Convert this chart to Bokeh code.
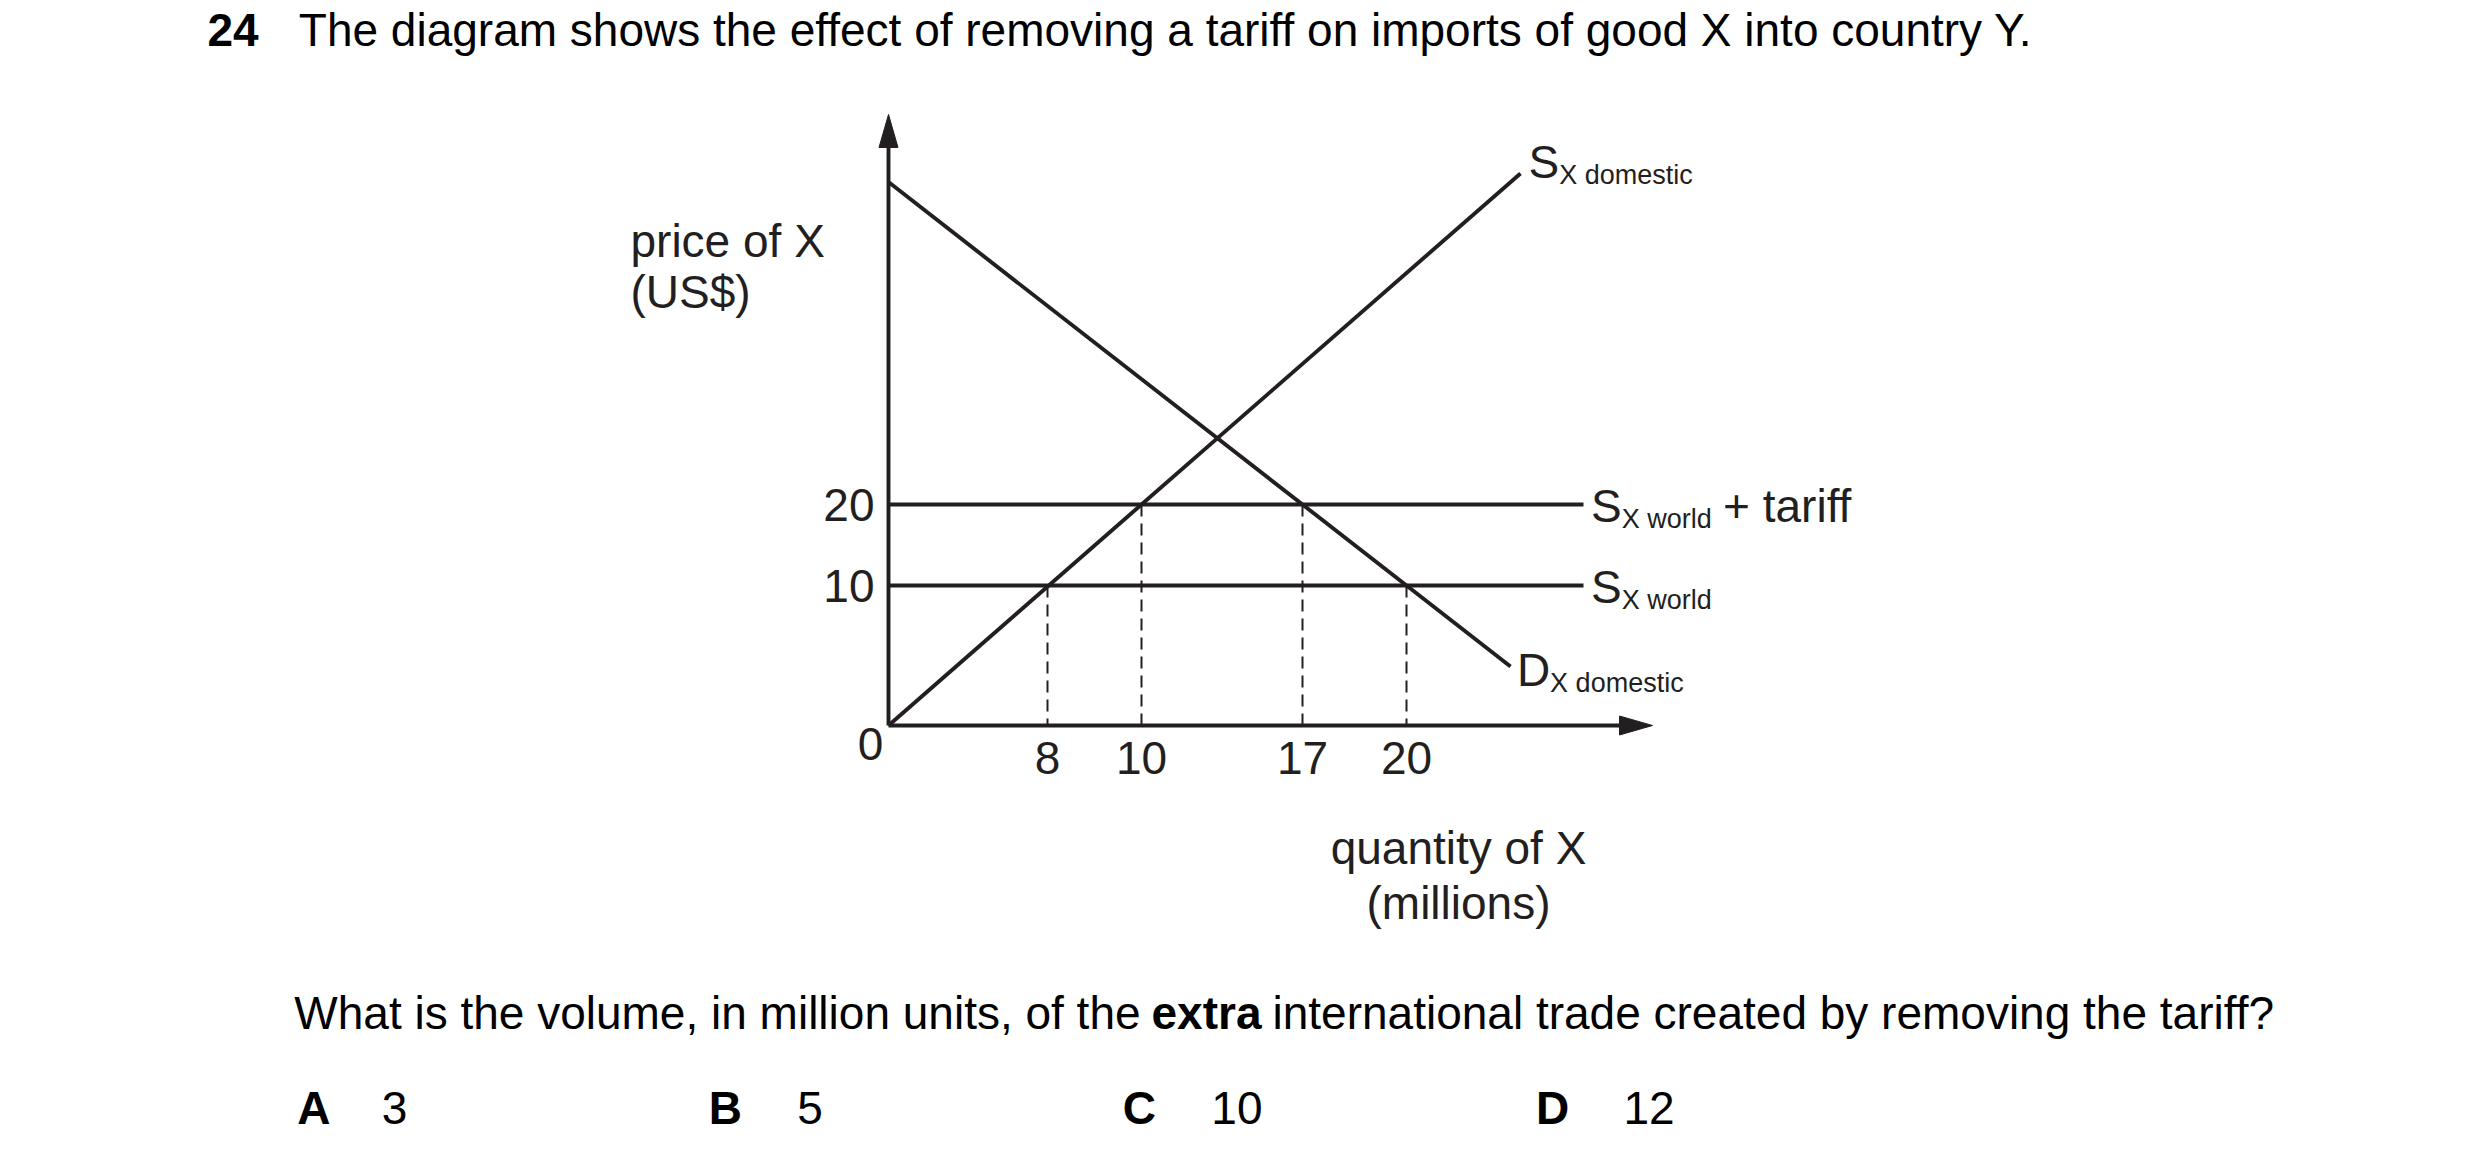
from bokeh.plotting import figure
from bokeh.models import Range1d
from bokeh.core.properties import value
from bokeh.embed import file_html
from bokeh.resources import INLINE

# ------------------------------------------------------------------ data
price_levels = [10, 20]                 # world price, world price + tariff
price_tick_labels = ["10", "20"]
qty_levels = [8, 10, 17, 20]
qty_tick_labels = ["8", "10", "17", "20"]
qty_read_at_price = [10, 20, 20, 10]    # price level each quantity is read at
supply_pts = [(8, 10), (10, 20)]        # domestic supply passes these (q, p)
demand_pts = [(17, 20), (20, 10)]       # domestic demand passes these (q, p)

title_number = "24"
title_text = "The diagram shows the effect of removing a tariff on imports of good X into country Y."
question_parts = ["What is the volume, in million units, of the", "extra",
                  "international trade created by removing the tariff?"]
answer_letters = ["A", "B", "C", "D"]
answer_values = ["3", "5", "10", "12"]
y_title_lines = ["price of X", "(US$)"]
x_title_lines = ["quantity of X", "(millions)"]
zero_label = "0"
curve_main = ["S", "S", "S", "D"]
curve_sub = ["X domestic", "X world", "X world", "X domestic"]
tariff_suffix = "+ tariff"

# ------------------------------------------------------------------ layout
# schematic (not-to-scale) axis positions, px from the origin
QPOS = {8: 159, 10: 253, 17: 414, 20: 518}
PPOS = {10: 140, 20: 221}
Y_AXIS_TOP = 611
X_AXIS_END = 764
SUPPLY_END_X = 632
DEMAND_END_X = 622
HLINE_END_X = 695

INK = "#231f20"
FONT = "Liberation Sans"
LW = 3.9
FS = 46
SUB_FS = 27
MID = 0.3465          # baseline -> em-box centre, in em

W, H = 2464, 1148
OX, OY = 888, 725     # origin of the diagram on the page
p = figure(width=W, height=H, x_range=Range1d(-OX, W - OX), y_range=Range1d(OY - H, OY),
           output_backend="svg", toolbar_location=None, min_border=0,
           x_axis_type=None, y_axis_type=None)
p.outline_line_color = None
p.background_fill_color = "white"
p.border_fill_color = "white"


def txt(x, y, t, size=FS, color=INK, align="left", bold=False):
    """y given as alphabetic baseline; drawn with a centred baseline."""
    p.text(x=x, y=[v + MID * size for v in y], text=t, text_font=value(FONT),
           text_font_size=value(f"{size}px"), text_color=color, text_align=align,
           text_baseline="middle", text_font_style=value("bold" if bold else "normal"))


# ---- axes (with arrow heads)
p.line([0, 0], [0, Y_AXIS_TOP - 20], line_width=LW, line_color=INK)
p.line([0, X_AXIS_END - 20], [0, 0], line_width=LW, line_color=INK)
hl, hw = 33, 9.5
p.patches(xs=[[0, -hw, hw], [X_AXIS_END, X_AXIS_END - hl, X_AXIS_END - hl]],
          ys=[[Y_AXIS_TOP, Y_AXIS_TOP - hl, Y_AXIS_TOP - hl], [0, hw, -hw]],
          fill_color=INK, line_color=INK, line_width=1)


# ---- curves
def line_through(pts, x0, x1):
    (qa, pa), (qb, pb) = pts
    xa, ya, xb, yb = QPOS[qa], PPOS[pa], QPOS[qb], PPOS[pb]
    m = (yb - ya) / (xb - xa)
    return [x0, x1], [ya + m * (x0 - xa), ya + m * (x1 - xa)]


# domestic supply starts at origin and runs through the (10, 20) point
sq, sp = supply_pts[1]
s_m = PPOS[sp] / QPOS[sq]
sx, sy = [0, SUPPLY_END_X], [0, s_m * SUPPLY_END_X]
p.line(sx, sy, line_width=LW, line_color=INK)

dx, dy = line_through(demand_pts, 0, DEMAND_END_X)
p.line(dx, dy, line_width=LW, line_color=INK)

# world supply lines
p.multi_line(xs=[[0, HLINE_END_X] for _ in price_levels],
             ys=[[PPOS[v], PPOS[v]] for v in price_levels],
             line_width=LW, line_color=INK)

# dashed drop lines
p.multi_line(xs=[[QPOS[q], QPOS[q]] for q in qty_levels],
             ys=[[PPOS[pr], 0] for pr in qty_read_at_price],
             line_width=2, line_color=INK, line_dash="12 7")

# ---- tick labels
p.text(x=[-14] * len(price_levels), y=[PPOS[v] for v in price_levels], text=price_tick_labels,
       text_font=value(FONT), text_font_size=value(f"{FS}px"), text_color=INK,
       text_align="right", text_baseline="middle")
txt([QPOS[q] for q in qty_levels], [-48] * len(qty_levels), qty_tick_labels, align="center")
txt([-18], [-34], [zero_label], align="center")

# ---- axis titles
txt([-258, -258], [469, 418], y_title_lines)
txt([570, 570], [-138, -193], x_title_lines, align="center")

# ---- curve labels (main letter + subscript)
main_x = [sx[1] + 8, HLINE_END_X + 7.6, HLINE_END_X + 7.6, dx[1] + 6.4]
main_mid = [sy[1] + 11, PPOS[20] - 1.5, PPOS[10] - 1.5, dy[1] - 3]
p.text(x=main_x, y=main_mid, text=curve_main, text_font=value(FONT),
       text_font_size=value(f"{FS}px"), text_color=INK, text_align="left", text_baseline="middle")
sub_dx = [30.7, 30.7, 30.7, 33.2]
p.text(x=[a + b for a, b in zip(main_x, sub_dx)], y=[v - 13 for v in main_mid], text=curve_sub,
       text_font=value(FONT), text_font_size=value(f"{SUB_FS}px"), text_color=INK,
       text_align="left", text_baseline="middle")
p.text(x=[main_x[1] + 132], y=[main_mid[1]], text=[tariff_suffix], text_font=value(FONT),
       text_font_size=value(f"{FS}px"), text_color=INK, text_align="left", text_baseline="middle")

# ---- question page text
txt([-681], [680], [title_number], color="black", bold=True)
txt([-589.7], [680], [title_text], color="black")
txt([-594.2, 384], [-303.3, -303.3], [question_parts[0], question_parts[2]], color="black")
txt([263], [-303.3], [question_parts[1]], color="black", bold=True)
txt([-591.3, -179.7, 234.3, 647.6], [-398.3] * 4, answer_letters, color="black", bold=True)
txt([-506.7, -91.3, 322.8, 735], [-398.3] * 4, answer_values, color="black")

open("out.html", "w").write(file_html(p, INLINE))
